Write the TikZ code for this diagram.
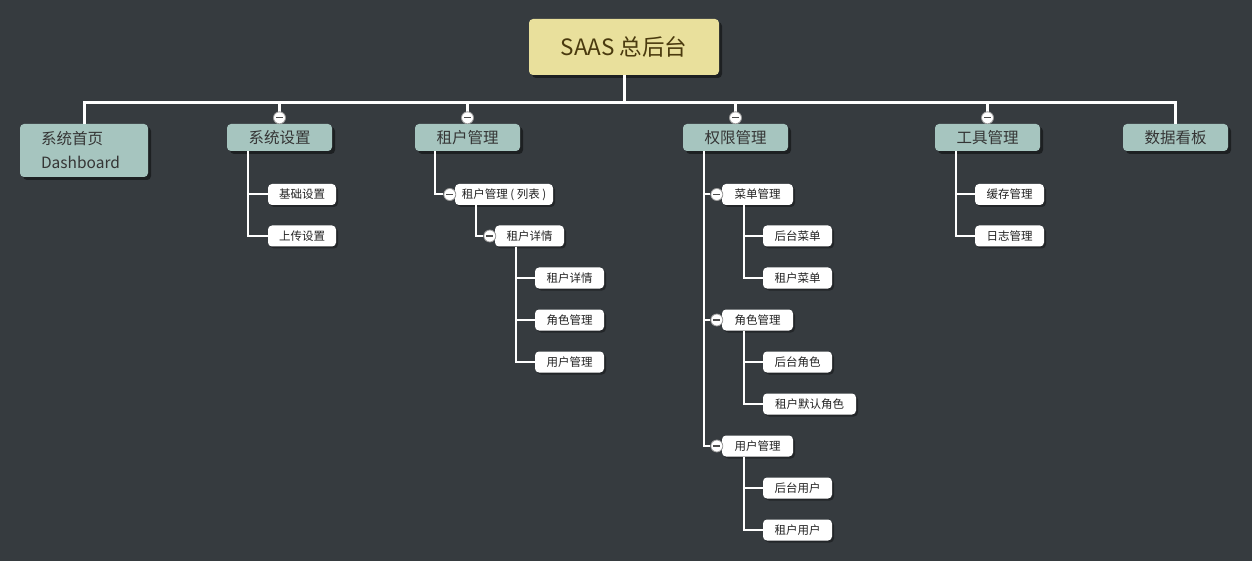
\documentclass[tikz,border=0pt]{standalone}
\usepackage{fontspec}
\setmainfont{Noto Sans CJK SC}
\usetikzlibrary{shadows,calc}
\definecolor{bgc}{HTML}{363B3F}
\definecolor{rootc}{HTML}{E9E09C}
\definecolor{roottext}{HTML}{4A3A0E}
\definecolor{topc}{HTML}{A6C5BF}
\definecolor{toptext}{HTML}{353535}
\definecolor{leaftext}{HTML}{222222}
\definecolor{circbd}{HTML}{9A9A9A}
\tikzset{
  rootbox/.style={fill=rootc, rounded corners=4, minimum width=190, minimum height=56,
    text=roottext, font=\fontsize{22.5}{26}\selectfont, inner sep=0,
    drop shadow={shadow xshift=3pt, shadow yshift=-3pt, opacity=0.45, fill=black}},
  topbox/.style={fill=topc, rounded corners=4, minimum width=105, minimum height=27,
    text=toptext, font=\fontsize{15.5}{18}\selectfont, inner sep=0,
    drop shadow={shadow xshift=3pt, shadow yshift=-3pt, opacity=0.45, fill=black}},
  leafbox/.style={fill=white, rounded corners=4, minimum width=69, minimum height=21,
    text=leaftext, font=\fontsize{11.5}{13}\selectfont, inner sep=0,
    drop shadow={shadow xshift=2pt, shadow yshift=-2pt, opacity=0.35, fill=black}},
  bus/.style={draw=white, line width=3},
  branch/.style={draw=white, line width=2},
  collapser/.style={circle, fill=white, draw=circbd, line width=0.8, minimum size=12, inner sep=0,
    path picture={\draw[black!70, line width=1.1]
      ([xshift=-3.5pt]path picture bounding box.center) -- ([xshift=3.5pt]path picture bounding box.center);}},
}
\begin{document}
\begin{tikzpicture}[x=1pt,y=-1pt]
\fill[bgc] (0,0) rectangle (1252,561);
\useasboundingbox (0,0) rectangle (1252,561);

% root
\node[rootbox] (root) at (624,47) {SAAS 总后台};
\coordinate (bus) at (624,103);

% top-level
\node[topbox, minimum width=128, minimum height=53, align=left, text width=86, inner xsep=21] (home) at (84,150.5) {系统首页\\[6pt]Dashboard};
\node[topbox] (sys) at (279.5,137.5) {系统设置};
\node[topbox] (ten) at (467.5,137.5) {租户管理};
\node[topbox] (perm) at (735.5,137.5) {权限管理};
\node[topbox] (tool) at (987.5,137.5) {工具管理};
\node[topbox] (board) at (1175.5,137.5) {数据看板};

% leaves
\node[leafbox, minimum width=68] (jc) at (302,194.5) {基础设置};
\node[leafbox, minimum width=68] (sc) at (302,236) {上传设置};

\node[leafbox, minimum width=98] (tl) at (504,194.5) {租户管理 ( 列表 )};
\node[leafbox] (td) at (529.5,236) {租户详情};
\node[leafbox] (td1) at (569.5,278) {租户详情};
\node[leafbox] (td2) at (569.5,320) {角色管理};
\node[leafbox] (td3) at (569.5,362) {用户管理};

\node[leafbox, minimum width=71] (menu) at (757.5,194.5) {菜单管理};
\node[leafbox] (m1) at (797.5,236) {后台菜单};
\node[leafbox] (m2) at (797.5,278) {租户菜单};
\node[leafbox, minimum width=71] (role) at (757.5,320) {角色管理};
\node[leafbox] (r1) at (797.5,362) {后台角色};
\node[leafbox, minimum width=93] (r2) at (809.5,404) {租户默认角色};
\node[leafbox, minimum width=71] (user) at (757.5,446) {用户管理};
\node[leafbox] (u1) at (797.5,488) {后台用户};
\node[leafbox] (u2) at (797.5,530) {租户用户};

\node[leafbox] (c1) at (1009.5,194.5) {缓存管理};
\node[leafbox] (c2) at (1009.5,236) {日志管理};

% bus connectors
\draw[bus] (root.south) -- (bus);
\draw[bus] (home.north) -- (home.north |- bus) -- (board.north |- bus) -- (board.north);
\draw[bus] (sys.north |- bus) -- (sys.north);
\draw[bus] (ten.north |- bus) -- (ten.north);
\draw[bus] (perm.north |- bus) -- (perm.north);
\draw[bus] (tool.north |- bus) -- (tool.north);

% collapse markers on top-level
\node[collapser] (sysc) at ($(sys.north)+(0,-6)$) {};
\node[collapser] (tenc) at ($(ten.north)+(0,-6)$) {};
\node[collapser] (permc) at ($(perm.north)+(0,-6)$) {};
\node[collapser] (toolc) at ($(tool.north)+(0,-6)$) {};

% branches
\draw[branch] ($(sys.south west)+(21,0)$) |- (jc.west);
\draw[branch] ($(sys.south west)+(21,0)$) |- (sc.west);

\node[collapser] (tlc) at ($(tl.west)+(-5,0)$) {};
\node[collapser] (tdc) at ($(td.west)+(-5,0)$) {};
\node[collapser] (menuc) at ($(menu.west)+(-5,0)$) {};
\node[collapser] (rolec) at ($(role.west)+(-5,0)$) {};
\node[collapser] (userc) at ($(user.west)+(-5,0)$) {};

\draw[branch] ($(ten.south west)+(20,0)$) |- (tlc.west);
\draw[branch] ($(tl.south west)+(21,0)$) |- (tdc.west);
\draw[branch] ($(td.south west)+(21,0)$) |- (td1.west);
\draw[branch] ($(td.south west)+(21,0)$) |- (td2.west);
\draw[branch] ($(td.south west)+(21,0)$) |- (td3.west);

\draw[branch] ($(perm.south west)+(21,0)$) |- (menuc.west);
\draw[branch] ($(perm.south west)+(21,0)$) |- (rolec.west);
\draw[branch] ($(perm.south west)+(21,0)$) |- (userc.west);
\draw[branch] ($(menu.south west)+(22,0)$) |- (m1.west);
\draw[branch] ($(menu.south west)+(22,0)$) |- (m2.west);
\draw[branch] ($(role.south west)+(22,0)$) |- (r1.west);
\draw[branch] ($(role.south west)+(22,0)$) |- (r2.west);
\draw[branch] ($(user.south west)+(22,0)$) |- (u1.west);
\draw[branch] ($(user.south west)+(22,0)$) |- (u2.west);

\draw[branch] ($(tool.south west)+(21,0)$) |- (c1.west);
\draw[branch] ($(tool.south west)+(21,0)$) |- (c2.west);
\end{tikzpicture}
\end{document}
